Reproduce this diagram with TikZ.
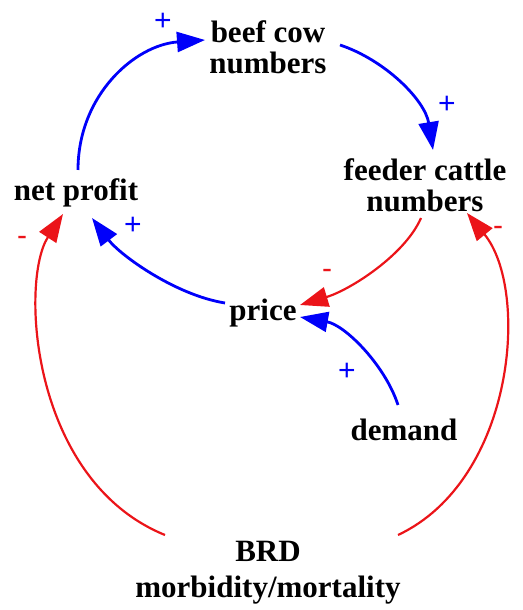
\documentclass[tikz,border=0pt]{standalone}
\usepackage{fontspec}
\setmainfont{Liberation Serif}
\newfontfamily\polfont{Liberation Sans}
\usetikzlibrary{arrows.meta,calc}
\definecolor{cldblue}{RGB}{0,0,250}
\definecolor{cldred}{RGB}{235,20,25}
\tikzset{
  var/.style={font=\fontsize{31}{31}\selectfont\bfseries, align=center, inner sep=2pt},
  posarrow/.style={draw=cldblue, line width=2.8pt, -{Triangle[length=28pt,width=20pt]}},
  negarrow/.style={draw=cldred, line width=2.2pt, -{Triangle[length=28pt,width=20pt]}},
  pluslbl/.style={text=cldblue, font=\polfont\fontsize{30}{30}\selectfont, inner sep=0pt},
  minuslbl/.style={text=cldred, font=\polfont\fontsize{30}{30}\selectfont, inner sep=0pt},
}
\begin{document}
\begin{tikzpicture}[x=1pt,y=1pt]
\useasboundingbox (0,0) rectangle (522,610);
% variables
\node[var] (bc) at (268,563) {beef cow\\numbers};
\node[var] (fc) at (425,425) {feeder cattle\\numbers};
\node[var] (np) at (76,417) {net profit};
\node[var] (pr) at (263,297) {price};
\node[var] (dm) at (404,180) {demand};
\node[var, font=\fontsize{31}{36}\selectfont\bfseries] (brd) at (268,37) {BRD\\morbidity/mortality};
% links
\draw[posarrow] ($(np)+(2,23)$) .. controls (78,515) and (135,565) .. ($(bc)+(-63,7)$);
\draw[posarrow] ($(bc)+(72,2)$) .. controls (385,550) and (425,510) .. ($(fc)+(8,35)$);
\draw[negarrow] ($(fc)+(-4,-33)$) .. controls (405,355) and (350,320) .. ($(pr)+(37,8)$);
\draw[posarrow] ($(pr)+(-38,10)$) .. controls (175,315) and (120,355) .. ($(np)+(16,-25)$);
\draw[posarrow] ($(dm)+(-6,25)$) .. controls (385,245) and (345,285) .. ($(pr)+(37,-4)$);
\draw[negarrow] ($(brd)+(-103,38)$) .. controls (30,130) and (20,330) .. ($(np)+(-13,-21)$);
\draw[negarrow] ($(brd)+(130,38)$) .. controls (515,130) and (530,320) .. ($(fc)+(42,-28)$);
% polarities
\node[pluslbl] (p1) at (163,588) {+};
\node[pluslbl] (p2) at (447,505) {+};
\node[pluslbl] (p3) at (133,384) {+};
\node[minuslbl] (m1) at (22,369) {-};
\node[minuslbl] (m2) at (498,379) {-};
\node[minuslbl] (m3) at (327,336) {-};
\node[pluslbl] (p4) at (347,238) {+};
\end{tikzpicture}
\end{document}
